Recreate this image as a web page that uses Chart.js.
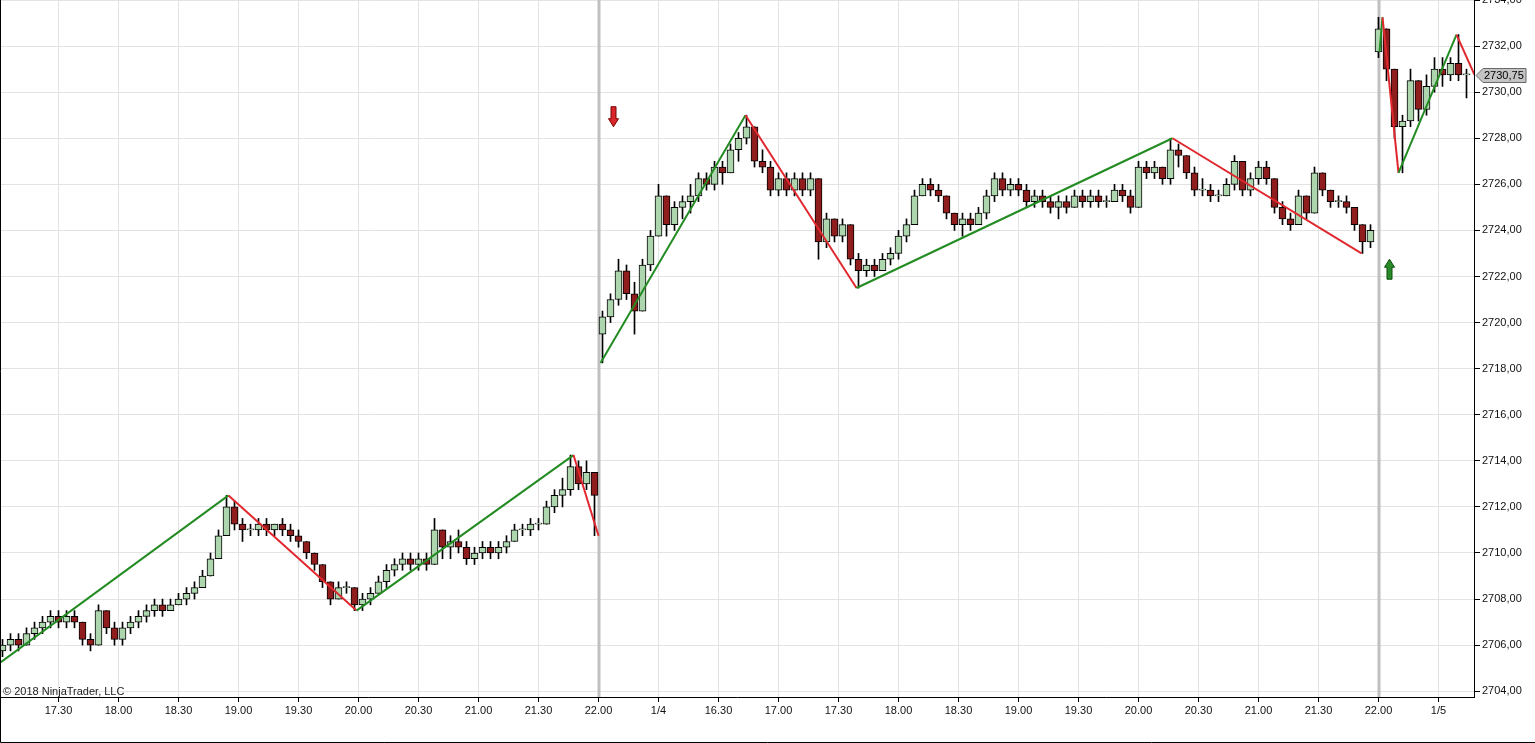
<!DOCTYPE html>
<html>
<head>
<meta charset="utf-8">
<title>ES 1 min - ZigZag</title>
<script src="https://cdn.jsdelivr.net/npm/chart.js@4.4.1/dist/chart.umd.min.js"></script>
<style>
  html, body { margin: 0; padding: 0; background: #fff; }
  canvas { display: block; }
</style>
</head>
<body>
<canvas id="chart" width="1535" height="743"></canvas>
<script>
// ---- data ----
// one candle per 4 one-minute bars, first candle on bar 1
var FIRST_BAR = 1;
var BAR_STEP = 4;

var opens = [
  2705.75, 2706, 2706.25, 2706, 2706.5, 2706.75, 2707, 2707.25, 2707, 2707.25,
  2707, 2706.25, 2706, 2707.5, 2706.75, 2706.25, 2706.75, 2707, 2707.25, 2707.5,
  2707.75, 2707.5, 2707.75, 2708, 2708.25, 2708.5, 2709, 2709.75, 2710.75, 2712,
  2711.25, 2711, 2711, 2711.25, 2711, 2711.25, 2711, 2710.75, 2710.5, 2710,
  2709.5, 2708.75, 2708, 2708.5, 2708.5, 2707.75, 2708, 2708.25, 2708.75, 2709.25,
  2709.5, 2709.75, 2709.5, 2709.75, 2709.5, 2711, 2710.25, 2710.5, 2710.25, 2709.75,
  2710, 2710.25, 2710, 2710.25, 2710.5, 2711, 2711, 2711.25, 2711.25, 2712,
  2712.5, 2712.75, 2713.75, 2713, 2713.5,
  2719.5, 2720.25, 2721, 2722.25, 2721.25, 2720.5, 2722.5, 2723.75, 2725.5, 2724.25,
  2725, 2725.25, 2725.5, 2726.25, 2726, 2726.75, 2726.5, 2727.5, 2728, 2728.5,
  2727, 2726.75, 2725.75, 2726.25, 2725.75, 2726.25, 2725.75, 2726.25, 2723.5, 2724.5,
  2723.75, 2724.25, 2722.75, 2722.25, 2722.5, 2722.25, 2722.75, 2723, 2723.75, 2724.25,
  2725.5, 2726, 2725.75, 2725.5, 2724.75, 2724.25, 2724.5, 2724.25, 2724.75, 2725.5,
  2726.25, 2725.75, 2726, 2725.75, 2725.25, 2725.5, 2725.25, 2725, 2725.25, 2725,
  2725.5, 2725.25, 2725.5, 2725.25, 2725.25, 2725.75, 2725.5, 2725, 2726.75, 2726.5,
  2726.75, 2726.25, 2727.5, 2727.25, 2726.5, 2725.75, 2725.75, 2725.5, 2725.5, 2726,
  2727, 2725.75, 2726.25, 2726.75, 2726.25, 2725, 2724.5, 2724.25, 2725.5, 2724.75,
  2726.5, 2725.75, 2725.25, 2725.25, 2725, 2724.25, 2723.5,
  2731.75, 2732.75, 2731, 2728.5, 2728.75, 2730.5, 2729.25, 2730.25, 2731, 2730.75, 2731.25, 2730.75
];
var highs = [
  2706.25, 2706.5, 2706.5, 2706.75, 2707, 2707.25, 2707.5, 2707.5, 2707.5, 2707.5,
  2707, 2706.5, 2707.75, 2707.5, 2707, 2707, 2707.25, 2707.5, 2707.75, 2708,
  2708, 2708, 2708.25, 2708.5, 2708.75, 2709.25, 2710, 2711, 2712.5, 2712.25,
  2711.5, 2711.25, 2711.5, 2711.5, 2711.25, 2711.5, 2711.25, 2711, 2710.5, 2710,
  2709.5, 2708.75, 2708.75, 2708.75, 2708.5, 2708.25, 2708.5, 2709, 2709.5, 2709.75,
  2710, 2710, 2710, 2710, 2711.5, 2711, 2710.75, 2711, 2710.5, 2710.25,
  2710.5, 2710.5, 2710.5, 2710.75, 2711.25, 2711.25, 2711.5, 2711.5, 2712.25, 2712.75,
  2713.25, 2714.25, 2714, 2714, 2713.5,
  2720.5, 2721.25, 2722.75, 2722.5, 2721.75, 2722.75, 2724, 2726, 2725.5, 2725.25,
  2725.5, 2726, 2726.5, 2726.5, 2727, 2727, 2727.75, 2728.25, 2729, 2728.5,
  2727.5, 2727, 2726.5, 2726.5, 2726.5, 2726.5, 2726.5, 2726.25, 2724.75, 2724.5,
  2724.5, 2724.25, 2723, 2722.75, 2722.75, 2723, 2723.25, 2724, 2724.5, 2725.75,
  2726.25, 2726.25, 2726, 2725.5, 2724.75, 2724.75, 2724.75, 2725, 2725.75, 2726.5,
  2726.5, 2726.25, 2726.25, 2726, 2725.75, 2725.75, 2725.5, 2725.5, 2725.5, 2725.75,
  2725.75, 2725.75, 2725.75, 2725.5, 2726, 2726, 2725.75, 2727, 2727, 2727,
  2726.75, 2728, 2727.75, 2727.25, 2726.75, 2726.25, 2726, 2725.75, 2726.25, 2727.25,
  2727, 2726.5, 2727, 2727, 2726.25, 2725.25, 2724.75, 2725.75, 2725.5, 2726.75,
  2726.5, 2725.75, 2725.5, 2725.5, 2725, 2724.25, 2724.25,
  2733.25, 2732.75, 2731, 2729, 2731, 2730.5, 2730.75, 2731.5, 2731.5, 2731.5, 2732.5, 2731
];
var lows = [
  2705.5, 2705.75, 2705.75, 2706, 2706.25, 2706.5, 2706.75, 2706.75, 2706.75, 2706.75,
  2706, 2705.75, 2706, 2706.5, 2706, 2706, 2706.5, 2706.75, 2707, 2707.25,
  2707.25, 2707.5, 2707.75, 2707.75, 2708, 2708.5, 2709, 2709.75, 2710.75, 2711,
  2710.5, 2710.75, 2710.75, 2710.75, 2710.75, 2710.75, 2710.5, 2710.25, 2709.75, 2709.25,
  2708.5, 2707.75, 2708, 2708.25, 2707.5, 2707.5, 2707.75, 2708.25, 2708.5, 2709,
  2709.25, 2709.25, 2709.25, 2709.25, 2709.5, 2709.75, 2709.75, 2710, 2709.5, 2709.5,
  2709.75, 2709.75, 2709.75, 2710, 2710.5, 2710.75, 2710.75, 2711, 2711.25, 2711.75,
  2712, 2712.5, 2712.75, 2712.75, 2710.75,
  2718.25, 2720, 2720.75, 2721, 2719.5, 2720.5, 2722.25, 2723.75, 2723.75, 2724,
  2724.5, 2724.75, 2725.25, 2725.75, 2725.75, 2726, 2726.5, 2727, 2727.75, 2726.75,
  2726.5, 2725.5, 2725.5, 2725.5, 2725.5, 2725.5, 2725.5, 2722.75, 2723.25, 2723.5,
  2723.5, 2722.5, 2721.5, 2722, 2722, 2722.25, 2722.5, 2722.75, 2723.5, 2724.25,
  2725.5, 2725.5, 2725.25, 2724.5, 2724, 2723.75, 2724, 2724.25, 2724.5, 2725.25,
  2725.5, 2725.5, 2725.5, 2725, 2725, 2725, 2724.75, 2724.5, 2724.75, 2725,
  2725, 2725, 2725, 2725, 2725.25, 2725.25, 2724.75, 2725, 2726.25, 2726.25,
  2726, 2726, 2726.75, 2726.25, 2725.5, 2725.5, 2725.25, 2725.25, 2725.5, 2725.75,
  2725.5, 2725.5, 2726, 2726, 2724.75, 2724.25, 2724, 2724.25, 2724.5, 2724.75,
  2725.5, 2725, 2725, 2724.75, 2724, 2723, 2723.25,
  2731.5, 2730.5, 2728, 2726.5, 2728.5, 2728.75, 2729, 2730, 2730.25, 2730.5, 2730.5, 2729.75
];
var closes = [
  2706, 2706.25, 2706, 2706.5, 2706.75, 2707, 2707.25, 2707, 2707.25, 2707,
  2706.25, 2706, 2707.5, 2706.75, 2706.25, 2706.75, 2707, 2707.25, 2707.5, 2707.75,
  2707.5, 2707.75, 2708, 2708.25, 2708.5, 2709, 2709.75, 2710.75, 2712, 2711.25,
  2711, 2711, 2711.25, 2711, 2711.25, 2711, 2710.75, 2710.5, 2710, 2709.5,
  2708.75, 2708, 2708.5, 2708.5, 2707.75, 2708, 2708.25, 2708.75, 2709.25, 2709.5,
  2709.75, 2709.5, 2709.75, 2709.5, 2711, 2710.25, 2710.5, 2710.25, 2709.75, 2710,
  2710.25, 2710, 2710.25, 2710.5, 2711, 2711, 2711.25, 2711.25, 2712, 2712.5,
  2712.75, 2713.75, 2713, 2713.5, 2712.5,
  2720.25, 2721, 2722.25, 2721.25, 2720.5, 2722.5, 2723.75, 2725.5, 2724.25, 2725,
  2725.25, 2725.5, 2726.25, 2726, 2726.75, 2726.5, 2727.5, 2728, 2728.5, 2727,
  2726.75, 2725.75, 2726.25, 2725.75, 2726.25, 2725.75, 2726.25, 2723.5, 2724.5, 2723.75,
  2724.25, 2722.75, 2722.25, 2722.5, 2722.25, 2722.75, 2723, 2723.75, 2724.25, 2725.5,
  2726, 2725.75, 2725.5, 2724.75, 2724.25, 2724.5, 2724.25, 2724.75, 2725.5, 2726.25,
  2725.75, 2726, 2725.75, 2725.25, 2725.5, 2725.25, 2725, 2725.25, 2725, 2725.5,
  2725.25, 2725.5, 2725.25, 2725.25, 2725.75, 2725.5, 2725, 2726.75, 2726.5, 2726.75,
  2726.25, 2727.5, 2727.25, 2726.5, 2725.75, 2725.75, 2725.5, 2725.5, 2726, 2727,
  2725.75, 2726.25, 2726.75, 2726.25, 2725, 2724.5, 2724.25, 2725.5, 2724.75, 2726.5,
  2725.75, 2725.25, 2725.25, 2725, 2724.25, 2723.5, 2724,
  2732.75, 2731, 2728.5, 2728.75, 2730.5, 2729.25, 2730.25, 2731, 2730.75, 2731.25, 2730.75, 2730.75
];

// zigzag pivots per session (bar index, price)
var zig1Bars   = [0, 114, 178, 286.5, 299];
var zig1Prices = [2705.25, 2712.5, 2707.5, 2714.25, 2710.75];
var zig2Bars   = [300, 372.5, 428, 586, 680.5];
var zig2Prices = [2718.25, 2729, 2721.5, 2728, 2723];
var zig3Bars   = [689.5, 691, 699, 728, 737];
var zig3Prices = [2731.75, 2733.25, 2726.5, 2732.5, 2730.75];

// session breaks (bar index)
var sessionBreaks = [299, 689];

// signal arrows: bar, price of arrow tip, direction
var signalBars   = [306, 694];
var signalPrices = [2728.5, 2722.75];
var signalDirs   = ['down', 'up'];

// axis labels
var timeLabels = ['17.30', '18.00', '18.30', '19.00', '19.30', '20.00', '20.30', '21.00',
  '21.30', '22.00', '1/4', '16.30', '17.00', '17.30', '18.00', '18.30', '19.00', '19.30',
  '20.00', '20.30', '21.00', '21.30', '22.00', '1/5'];
var timeLabelBars = [29, 59, 89, 119, 149, 179, 209, 239, 269, 299, 329, 359, 389, 419,
  449, 479, 509, 539, 569, 599, 629, 659, 689, 719];
var priceTicks = [2704, 2706, 2708, 2710, 2712, 2714, 2716, 2718, 2720, 2722, 2724, 2726,
  2728, 2730, 2732, 2734];

// ---- styling ----
var FONT = '"Liberation Sans", Arial, sans-serif';
var UP_FILL = '#aed6ae';
var DOWN_FILL = '#8f1d1d';
var ZIG_UP = '#228b22';
var ZIG_DOWN = '#e0282e';
var GRID = '#e3e3e3';

function fmtPrice(v) { return v.toFixed(2).replace('.', ','); }

var bodies = [], wicks = [], bodyColors = [];
opens.forEach(function (o, i) {
  var bar = FIRST_BAR + i * BAR_STEP;
  bodies.push({ x: bar, y: [o, closes[i]] });
  wicks.push({ x: bar, y: [lows[i], highs[i]] });
  bodyColors.push(closes[i] >= o ? UP_FILL : DOWN_FILL);
});

function zigData(bars, prices) {
  return bars.map(function (b, i) { return { x: b, y: prices[i] }; });
}
function zigDataset(bars, prices) {
  return {
    type: 'line',
    data: zigData(bars, prices),
    borderColor: ZIG_UP,
    borderWidth: 2,
    pointRadius: 0,
    tension: 0,
    order: 0,
    segment: {
      borderColor: function (ctx) { return ctx.p1.parsed.y >= ctx.p0.parsed.y ? ZIG_UP : ZIG_DOWN; }
    }
  };
}

function drawArrow(ctx, x, tip, dir, fill, stroke) {
  var s = dir === 'down' ? -1 : 1;   // direction from tip toward the tail
  ctx.beginPath();
  ctx.moveTo(x, tip);
  ctx.lineTo(x + 5, tip + s * 8);
  ctx.lineTo(x + 2.5, tip + s * 8);
  ctx.lineTo(x + 2.5, tip + s * 20);
  ctx.lineTo(x - 2.5, tip + s * 20);
  ctx.lineTo(x - 2.5, tip + s * 8);
  ctx.lineTo(x - 5, tip + s * 8);
  ctx.closePath();
  ctx.fillStyle = fill;
  ctx.fill();
  ctx.lineWidth = 1;
  ctx.strokeStyle = stroke;
  ctx.stroke();
}

var overlay = {
  id: 'overlay',
  beforeDatasetsDraw: function (chart) {
    var ctx = chart.ctx, a = chart.chartArea, xs = chart.scales.x;
    ctx.save();
    ctx.strokeStyle = '#c0c0c0';
    ctx.lineWidth = 3;
    sessionBreaks.forEach(function (b) {
      var px = Math.round(xs.getPixelForValue(b));
      ctx.beginPath();
      ctx.moveTo(px, a.top);
      ctx.lineTo(px, a.bottom);
      ctx.stroke();
    });
    ctx.restore();
  },
  afterDatasetsDraw: function (chart) {
    var ctx = chart.ctx, a = chart.chartArea, xs = chart.scales.x, ys = chart.scales.y;
    ctx.save();
    signalBars.forEach(function (b, i) {
      var up = signalDirs[i] === 'up';
      drawArrow(ctx, Math.round(xs.getPixelForValue(b)) + 0.5, ys.getPixelForValue(signalPrices[i]),
        signalDirs[i], up ? '#2a8a2a' : '#d8262b', up ? '#0b4d0b' : '#7a0000');
    });
    ctx.fillStyle = '#222';
    ctx.font = '11px ' + FONT;
    ctx.textBaseline = 'alphabetic';
    ctx.textAlign = 'left';
    ctx.fillText('\u00a9 2018 NinjaTrader, LLC', a.left + 3, a.bottom - 2);
    ctx.restore();
  },
  afterDraw: function (chart) {
    var ctx = chart.ctx, a = chart.chartArea, ys = chart.scales.y;
    var last = closes[closes.length - 1];
    var y = Math.round(ys.getPixelForValue(last)) + 0.5;
    var x0 = a.right + 2;
    ctx.save();
    ctx.beginPath();
    ctx.moveTo(x0, y);
    ctx.lineTo(x0 + 7, y - 7);
    ctx.lineTo(x0 + 50, y - 7);
    ctx.lineTo(x0 + 50, y + 7);
    ctx.lineTo(x0 + 7, y + 7);
    ctx.closePath();
    ctx.fillStyle = '#c4c4c4';
    ctx.fill();
    ctx.strokeStyle = '#6a6a6a';
    ctx.lineWidth = 1;
    ctx.stroke();
    ctx.fillStyle = '#000';
    ctx.font = '11px ' + FONT;
    ctx.textBaseline = 'middle';
    ctx.fillText(fmtPrice(last), x0 + 8, y + 0.5);
    // window frame
    ctx.strokeStyle = '#000';
    ctx.beginPath();
    ctx.moveTo(0.5, 0);
    ctx.lineTo(0.5, chart.height - 0.5);
    ctx.lineTo(chart.width, chart.height - 0.5);
    ctx.stroke();
    ctx.restore();
  }
};

new Chart(document.getElementById('chart'), {
  type: 'bar',
  data: {
    datasets: [
      {
        type: 'bar', data: wicks, grouped: false, barThickness: 1,
        backgroundColor: '#000', borderWidth: 0, order: 2
      },
      {
        type: 'bar', data: bodies, grouped: false, barThickness: 7, minBarLength: 1,
        backgroundColor: bodyColors, borderColor: '#000', borderWidth: 1,
        borderSkipped: false, order: 1
      },
      zigDataset(zig1Bars, zig1Prices),
      zigDataset(zig2Bars, zig2Prices),
      zigDataset(zig3Bars, zig3Prices)
    ]
  },
  options: {
    responsive: false,
    animation: false,
    devicePixelRatio: 1,
    events: [],
    layout: { padding: 0 },
    plugins: { legend: { display: false }, tooltip: { enabled: false } },
    scales: {
      x: {
        type: 'linear',
        min: -0.25,
        max: 736.75,
        offset: false,
        grid: { offset: false, color: GRID, tickColor: '#000', tickLength: 5 },
        border: { color: '#000' },
        ticks: {
          color: '#111', font: { family: FONT, size: 11 }, padding: 2,
          maxRotation: 0, minRotation: 0, autoSkip: false,
          callback: function (v) { var i = timeLabelBars.indexOf(v); return i < 0 ? '' : timeLabels[i]; }
        },
        afterBuildTicks: function (s) { s.ticks = timeLabelBars.map(function (b) { return { value: b }; }); },
        afterFit: function (s) { s.height = 46; s.paddingLeft = 0; s.paddingRight = 0; }
      },
      y: {
        type: 'linear',
        position: 'right',
        min: 2703.75,
        max: 2734,
        beginAtZero: false,
        grid: { color: GRID, tickColor: '#000', tickLength: 6 },
        border: { color: '#000' },
        ticks: {
          color: '#111', font: { family: FONT, size: 11 }, padding: 2,
          callback: function (v) { return fmtPrice(v); }
        },
        afterBuildTicks: function (s) { s.ticks = priceTicks.map(function (p) { return { value: p }; }); },
        afterFit: function (s) { s.width = 61; s.paddingTop = 0; s.paddingBottom = 0; }
      }
    }
  },
  plugins: [overlay]
});
</script>
</body>
</html>
